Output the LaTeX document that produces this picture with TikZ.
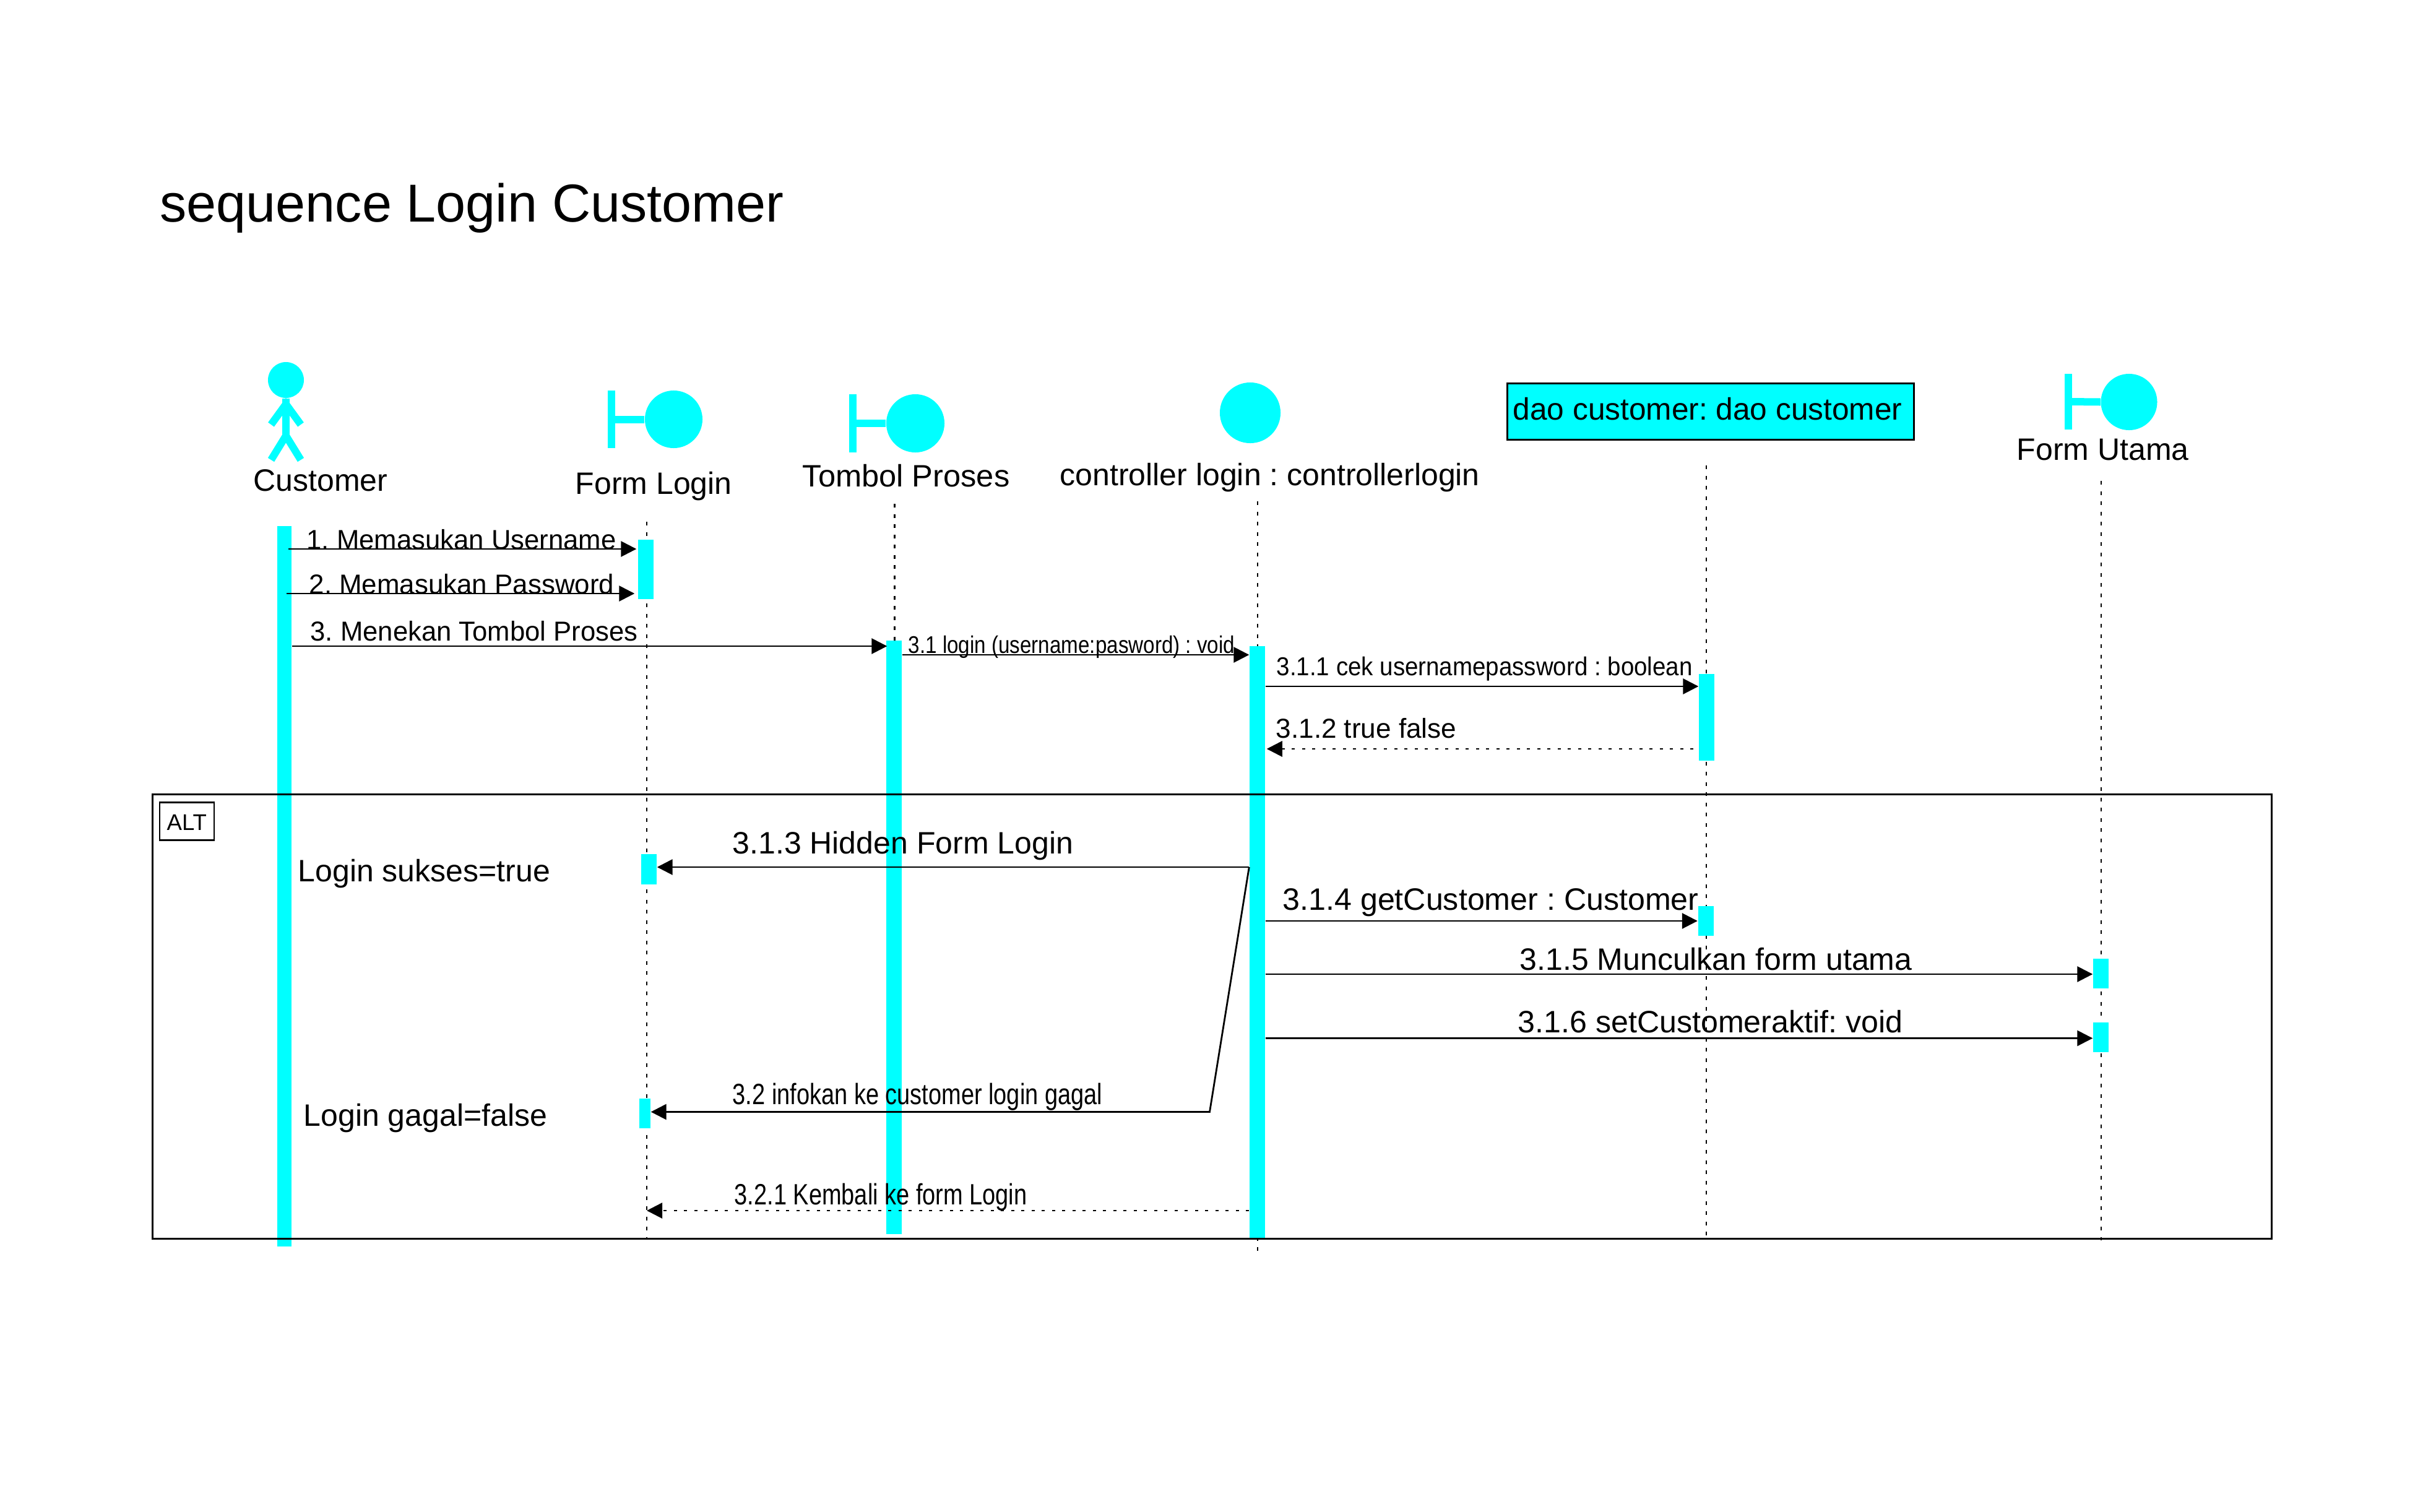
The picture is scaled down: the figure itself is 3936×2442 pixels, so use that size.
\documentclass[tikz,border=0pt]{standalone}
\usepackage{fontspec}
\setmainfont{Liberation Sans}
\usetikzlibrary{arrows.meta}
\definecolor{actorcyan}{HTML}{00FFFF}
\newcommand{\fpx}[1]{\fontsize{#1}{#1}\selectfont\frenchspacing}
\newcommand{\narrow}[2]{\scalebox{#1}[1]{#2}}
\tikzset{
    lbl/.style={anchor=base west,inner sep=0pt,font=\fpx{14.22pt}},
    msglbl/.style={anchor=base west,inner sep=0pt,font=\fpx{12.6pt}},
    bar/.style={fill=actorcyan,inner sep=0pt,minimum width=.25cm},
    ball/.style={circle,fill=actorcyan,inner sep=0pt},
    stem/.style={actorcyan,line width=.12cm},
    life/.style={line width=.025cm,dash pattern=on .06cm off .105cm},
    call/.style={line width=.028cm,-{Triangle[length=.25cm,width=.25cm]}},
    reply/.style={call,dash pattern=on .05cm off .115cm}
}
\begin{document}
\begin{tikzpicture}[x=.01cm,y=-.01cm]
    \useasboundingbox (0,0) rectangle (3936,2442);

    \node[anchor=base west,inner sep=0pt,font=\fpx{24.55pt}] (title) at (258,358) {sequence Login Customer};

    % customer
    \node[ball,minimum size=.58cm] (custhead) at (462,614) {};
    \coordinate (custhip) at (462,704);
    \draw[stem] (custhead.south) -- (custhip);
    \draw[stem] (438,686) -- (462,653) -- (486,686);
    \draw[stem] (438,743) -- (custhip) -- (486,743);
    \node[lbl] (custname) at (409,793) {Customer};

    % form login
    \node[ball,minimum size=.93cm] (loginball) at (1088.5,677.5) {};
    \draw[stem] (988,631) -- (988,724);
    \draw[stem] (988,677.5) -- (loginball.west);
    \node[lbl] (loginname) at (929,798) {Form Login};

    % tombol proses
    \node[ball,minimum size=.94cm] (tombolball) at (1479,684) {};
    \draw[stem] (1377.5,637) -- (1377.5,731);
    \draw[stem] (1377.5,684) -- (tombolball.west);
    \node[lbl] (tombolname) at (1296,786) {\narrow{1.012}{Tombol Proses}};

    % controller
    \node[ball,minimum size=.98cm] (ctrlball) at (2020,667) {};
    \node[lbl] (ctrlname) at (1712,784) {controller login : controllerlogin};

    % dao
    \node[draw,fill=actorcyan,line width=.03cm,minimum width=6.56cm,minimum height=.91cm,inner sep=0pt] (daobox) at (2764,665) {};
    \node[lbl] (daoname) at (2444,678) {\narrow{.992}{dao customer: dao customer}};

    % form utama
    \node[ball,minimum size=.91cm] (utamaball) at (3440,649.5) {};
    \draw[stem] (3342,604) -- (3342,694);
    \draw[stem] (3342,649) -- (utamaball.west);
    \node[lbl] (utamaname) at (3258,743) {Form Utama};

    % lifelines
    \foreach \nm/\xx/\ya/\yb in {login/1045/843/2000,tombol/1445.5/814/1035,ctrl/2032/810/2022,dao/2757/752/1997,utama/3395/777/2004} {
        \coordinate (\nm top) at (\xx,\ya);
        \coordinate (\nm bot) at (\xx,\yb);
        \draw[life] (\nm top) -- (\nm bot);
    }

    % activations
    \node[bar,minimum width=.23cm,minimum height=11.64cm] (custbar) at (459.5,1432) {};
    \node[bar,minimum height=.96cm] (loginbara) at (1043.5,920) {};
    \node[bar,minimum height=.49cm] (loginbarb) at (1048.5,1404.5) {};
    \node[bar,minimum width=.18cm,minimum height=.48cm] (loginbarc) at (1042,1799) {};
    \node[bar,minimum height=9.59cm] (tombolbar) at (1444.5,1514.5) {};
    \node[bar,minimum height=9.56cm] (ctrlbar) at (2031.5,1522) {};
    \node[bar,minimum height=1.40cm] (daobara) at (2757.5,1159) {};
    \node[bar,minimum height=.48cm] (daobarb) at (2756,1488) {};
    \node[bar,minimum height=.48cm] (utamabara) at (3394.5,1573) {};
    \node[bar,minimum height=.48cm] (utamabarb) at (3394.5,1675.5) {};

    % alt frame
    \node[draw,line width=.03cm,inner sep=0pt,minimum width=34.22cm,minimum height=7.17cm] (altframe) at (1958,1642.5) {};
    \node[draw,line width=.025cm,inner sep=0pt,minimum width=.88cm,minimum height=.61cm] (altbox) at (302,1327) {};
    \node[anchor=base west,inner sep=0pt,font=\fpx{10.4pt}] (alttext) at (269,1341) {ALT};
    \node[lbl] (sukses) at (481,1424.5) {Login sukses=true};
    \node[lbl] (gagal) at (490,1819) {Login gagal=false};

    % rows of the messages
    \coordinate (ra) at (0,887);
    \coordinate (rb) at (0,959);
    \coordinate (rc) at (0,1044);
    \coordinate (rd) at (0,1058);
    \coordinate (re) at (0,1109);
    \coordinate (rf) at (0,1210);
    \coordinate (rg) at (0,1401);
    \coordinate (rh) at (0,1488);
    \coordinate (ri) at (0,1574);
    \coordinate (rj) at (0,1677.5);
    \coordinate (rk) at (0,1796.5);
    \coordinate (rl) at (0,1956);
    \coordinate (bend) at (1954.5,1796.5);

    \draw[call] ([xshift=-.06cm]custbar.east |- ra) -- ([xshift=-.02cm]loginbara.west |- ra);
    \draw[call] ([xshift=-.09cm]custbar.east |- rb) -- ([xshift=-.05cm]loginbara.west |- rb);
    \draw[call] (custbar.east |- rc) -- ([xshift=.02cm]tombolbar.west |- rc);
    \draw[call] (tombolbar.east |- rd) -- (ctrlbar.west |- rd);
    \draw[call] (ctrlbar.east |- re) -- (daobara.west |- re);
    \draw[reply] ([xshift=-.08cm]daobara.west |- rf) -- ([xshift=.02cm]ctrlbar.east |- rf);
    \draw[call] (ctrlbar.west |- rg) -- (loginbarb.east |- rg);
    \draw[call] (ctrlbar.east |- rh) -- (daobarb.west |- rh);
    \draw[call] (ctrlbar.east |- ri) -- (utamabara.west |- ri);
    \draw[call] (ctrlbar.east |- rj) -- (utamabarb.west |- rj);
    \draw[call] (ctrlbar.west |- rg) -- (bend) -- (loginbarc.east |- rk);
    \draw[reply] (ctrlbar.west |- rl) -- (logintop |- rl);

    \node[msglbl] (ma) at (495,887) {\narrow{.985}{1. Memasukan Username}};
    \node[msglbl] (mb) at (499,959) {\narrow{.99}{2. Memasukan Password}};
    \node[msglbl] (mc) at (501,1035) {\narrow{.985}{3. Menekan Tombol Proses}};
    \node[msglbl,font=\fpx{11.1pt}] (md) at (1467,1055) {\narrow{.85}{3.1 login (username:pasword) : void}};
    \node[msglbl,font=\fpx{11.9pt}] (me) at (2062,1091) {\narrow{.92}{3.1.1 cek usernamepassword : boolean}};
    \node[msglbl] (mf) at (2061,1192) {\narrow{.995}{3.1.2 true false}};
    \node[lbl] (mg) at (1183,1379) {3.1.3 Hidden Form Login};
    \node[lbl] (mh) at (2072,1470) {\narrow{1.003}{3.1.4 getCustomer : Customer}};
    \node[lbl] (mi) at (2455,1567) {3.1.5 Munculkan form utama};
    \node[lbl] (mj) at (2452,1668) {\narrow{1.003}{3.1.6 setCustomeraktif: void}};
    \node[msglbl,font=\fpx{13.5pt}] (mk) at (1183,1784) {\narrow{.8}{3.2 infokan ke customer login gagal}};
    \node[msglbl,font=\fpx{13.5pt}] (ml) at (1186,1946) {\narrow{.8}{3.2.1 Kembali ke form Login}};
\end{tikzpicture}
\end{document}
